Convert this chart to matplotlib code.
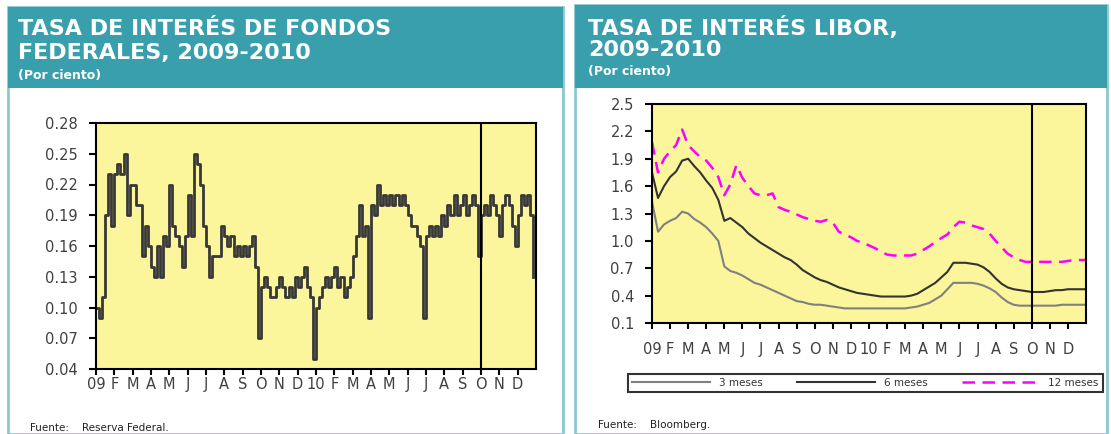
import numpy as np
import matplotlib
matplotlib.use("Agg")
import matplotlib.pyplot as plt
from matplotlib.patches import Rectangle

# meses (etiquetas del eje x)
meses = ["09", "F", "M", "A", "M", "J", "J", "A", "S", "O", "N", "D",
         "10", "F", "M", "A", "M", "J", "J", "A", "S", "O", "N", "D"]

# fondos federales, 6 lecturas por mes
fondos = [
    0.10, 0.09, 0.11, 0.19, 0.23, 0.18,
    0.23, 0.24, 0.23, 0.25, 0.19, 0.22,
    0.22, 0.20, 0.20, 0.15, 0.18, 0.16,
    0.14, 0.13, 0.16, 0.13, 0.17, 0.16,
    0.22, 0.18, 0.17, 0.16, 0.14, 0.17,
    0.21, 0.17, 0.25, 0.24, 0.22, 0.18,
    0.16, 0.13, 0.15, 0.15, 0.15, 0.18,
    0.17, 0.16, 0.17, 0.15, 0.16, 0.15,
    0.16, 0.15, 0.16, 0.17, 0.14, 0.07,
    0.12, 0.13, 0.12, 0.11, 0.11, 0.12,
    0.13, 0.12, 0.11, 0.12, 0.11, 0.13,
    0.12, 0.13, 0.14, 0.12, 0.11, 0.05,
    0.10, 0.11, 0.12, 0.13, 0.12, 0.13,
    0.14, 0.12, 0.13, 0.11, 0.12, 0.13,
    0.15, 0.17, 0.20, 0.17, 0.18, 0.09,
    0.20, 0.19, 0.22, 0.20, 0.21, 0.20,
    0.21, 0.20, 0.21, 0.20, 0.21, 0.20,
    0.19, 0.18, 0.18, 0.17, 0.16, 0.09,
    0.17, 0.18, 0.17, 0.18, 0.17, 0.19,
    0.18, 0.20, 0.19, 0.21, 0.19, 0.20,
    0.21, 0.19, 0.20, 0.21, 0.20, 0.15,
    0.19, 0.20, 0.19, 0.21, 0.20, 0.19,
    0.17, 0.20, 0.21, 0.20, 0.18, 0.16,
    0.19, 0.21, 0.20, 0.21, 0.19, 0.13,
]

# libor, 3 lecturas por mes + cierre
libor_3m = [
    1.43, 1.10, 1.18,  1.22, 1.25, 1.32,  1.30, 1.24, 1.20,
    1.15, 1.08, 1.00,  0.72, 0.67, 0.65,  0.62, 0.58, 0.54,
    0.52, 0.49, 0.46,  0.43, 0.40, 0.37,  0.34, 0.33, 0.31,
    0.30, 0.30, 0.29,  0.28, 0.27, 0.26,  0.26, 0.26, 0.26,
    0.26, 0.26, 0.26,  0.26, 0.26, 0.26,  0.26, 0.27, 0.28,
    0.30, 0.32, 0.36,  0.40, 0.47, 0.54,  0.54, 0.54, 0.54,
    0.53, 0.51, 0.48,  0.44, 0.38, 0.33,  0.30, 0.29, 0.29,
    0.29, 0.29, 0.29,  0.29, 0.29, 0.30,  0.30, 0.30, 0.30,
    0.30,
]
libor_6m = [
    1.75, 1.47, 1.60,  1.70, 1.76, 1.88,  1.90, 1.82, 1.75,
    1.66, 1.58, 1.45,  1.22, 1.25, 1.20,  1.15, 1.08, 1.03,
    0.98, 0.94, 0.90,  0.86, 0.82, 0.79,  0.74, 0.68, 0.64,
    0.60, 0.57, 0.55,  0.52, 0.49, 0.47,  0.45, 0.43, 0.42,
    0.41, 0.40, 0.39,  0.39, 0.39, 0.39,  0.39, 0.40, 0.42,
    0.46, 0.50, 0.54,  0.60, 0.66, 0.76,  0.76, 0.76, 0.75,
    0.74, 0.71, 0.66,  0.59, 0.53, 0.49,  0.47, 0.46, 0.45,
    0.44, 0.44, 0.44,  0.45, 0.46, 0.46,  0.47, 0.47, 0.47,
    0.47,
]
libor_12m = [
    2.08, 1.75, 1.90,  1.98, 2.05, 2.22,  2.05, 1.98, 1.92,
    1.88, 1.80, 1.70,  1.50, 1.62, 1.83,  1.69, 1.60, 1.52,
    1.50, 1.50, 1.52,  1.37, 1.34, 1.32,  1.29, 1.26, 1.24,
    1.22, 1.21, 1.23,  1.20, 1.10, 1.07,  1.04, 1.00, 0.98,
    0.95, 0.92, 0.88,  0.85, 0.84, 0.84,  0.84, 0.84, 0.86,
    0.90, 0.94, 0.99,  1.03, 1.07, 1.15,  1.21, 1.20, 1.17,
    1.15, 1.13, 1.08,  1.00, 0.93, 0.86,  0.82, 0.79, 0.77,
    0.77, 0.77, 0.77,  0.77, 0.77, 0.77,  0.78, 0.79, 0.79,
    0.79,
]

W, H = 1111, 434
TEAL = "#3a9fac"
BORDE = "#8cc8d0"
AMARILLO = "#fbf59c"
GRIS_TXT = "#404040"


def fx(x):
    return x / W


def fy(y):
    return 1 - y / H


fig = plt.figure(figsize=(W / 100, H / 100), dpi=100)

# marcos y encabezados (detras de los ejes)
for x0, x1, y0 in [(8, 563, 7), (575, 1107, 5)]:
    fig.patches.append(Rectangle((fx(x0), 0), fx(x1 - x0), fy(y0), transform=fig.transFigure,
                                 facecolor="white", edgecolor=BORDE, lw=2, zorder=-3))
for x0, x1, y0, y1 in [(8, 563, 7, 88), (575, 1107, 5, 88)]:
    fig.patches.append(Rectangle((fx(x0), fy(y1)), fx(x1 - x0), (y1 - y0) / H,
                                 transform=fig.transFigure, facecolor=TEAL,
                                 edgecolor="none", zorder=-2))

tit = dict(color="white", fontsize=16, fontweight="bold", va="center")
sub = dict(color="white", fontsize=9, fontweight="bold", va="center")
fig.text(fx(18), fy(29), "TASA DE INTERÉS DE FONDOS", **tit)
fig.text(fx(18), fy(53), "FEDERALES, 2009-2010", **tit)
fig.text(fx(18), fy(75), "(Por ciento)", **sub)
fig.text(fx(588), fy(27), "TASA DE INTERÉS LIBOR,", **tit)
fig.text(fx(588), fy(50), "2009-2010", **tit)
fig.text(fx(588), fy(72), "(Por ciento)", **sub)

fig.text(fx(30), fy(428), "Fuente:    Reserva Federal.", fontsize=7.5, color="#222222",
         va="center")
fig.text(fx(598), fy(425), "Fuente:    Bloomberg.", fontsize=7.5, color="#222222",
         va="center")


def estilo(ax, pad):
    ax.set_facecolor(AMARILLO)
    for s in ax.spines.values():
        s.set_linewidth(1.5)
        s.set_color("black")
    ax.set_xlim(0, 24)
    ax.set_xticks(range(24))
    ax.set_xticklabels(meses)
    ax.tick_params(axis="x", direction="out", length=4, width=1.5, pad=pad,
                   labelsize=10.5, labelcolor=GRIS_TXT)
    ax.tick_params(axis="y", direction="out", length=5, width=1.5, pad=8,
                   labelsize=10.5, labelcolor=GRIS_TXT)
    ax.axvline(21, color="black", lw=1.5)


# izquierda: fondos federales
ax1 = fig.add_axes([fx(96), fy(369), fx(440), 246 / H])
x1 = np.arange(len(fondos)) * 24 / len(fondos)
ax1.plot(x1, fondos, color="#383838", lw=2, drawstyle="steps-post")
ax1.set_ylim(0.04, 0.28)
yt1 = np.arange(0.04, 0.281, 0.03)
ax1.set_yticks(yt1)
ax1.set_yticklabels(["%.2f" % v for v in yt1])
estilo(ax1, 2)

# derecha: libor
ax2 = fig.add_axes([fx(652), fy(323), fx(434), 219 / H])
x2 = np.arange(len(libor_3m)) * 24 / (len(libor_3m) - 1)
ax2.plot(x2, libor_3m, color="#808080", lw=1.5, label="3 meses")
ax2.plot(x2, libor_6m, color="#333333", lw=1.5, label="6 meses")
ax2.plot(x2, libor_12m, color="#ff00ff", lw=1.8, ls=(0, (5, 3)), label="12 meses")
ax2.set_ylim(0.1, 2.5)
yt2 = np.arange(0.1, 2.51, 0.3)
ax2.set_yticks(yt2)
ax2.set_yticklabels(["%.1f" % v for v in yt2])
estilo(ax2, 10)

leg = fig.legend(loc="lower left", ncol=3, mode="expand",
                 bbox_to_anchor=(fx(628), fy(392), fx(475), 25 / H),
                 fontsize=7.5, handlelength=7.5, frameon=True, fancybox=False,
                 borderaxespad=0, borderpad=0.4, columnspacing=1.0)
leg.get_frame().set_edgecolor("black")
leg.get_frame().set_linewidth(1.5)
for t in leg.get_texts():
    t.set_color("#333333")

fig.savefig("out.png", dpi=100)
